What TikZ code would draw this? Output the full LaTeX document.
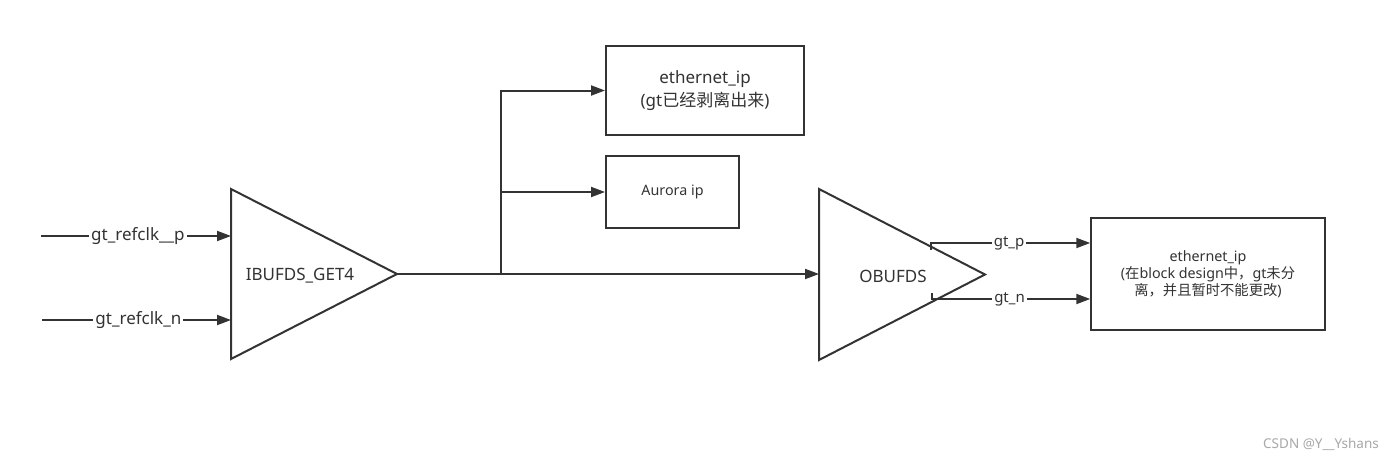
\documentclass[tikz,border=0pt]{standalone}
\usepackage{fontspec}
\setmainfont{Noto Sans}
\newfontfamily\cjk{Noto Sans CJK SC}
\usetikzlibrary{arrows.meta}
\definecolor{ink}{HTML}{333333}
\definecolor{mark}{HTML}{A8A8A8}

\begin{document}
\begin{tikzpicture}[x=1pt,y=-1pt,
  wire/.style={draw=ink,line width=2pt},
  feed/.style={wire,-{Triangle[length=14pt,width=10pt]}},
  block/.style={draw=ink,line width=2pt,fill=white,text=ink,align=center,inner sep=0pt},
  amp/.style={draw=ink,line width=2pt,line join=miter},
  tag/.style={fill=white,text=ink,inner xsep=2pt,inner ysep=1pt},
  big/.style={font=\fontsize{17}{22.5}\selectfont},
  mid/.style={font=\fontsize{15}{17}\selectfont},
  small/.style={font=\fontsize{14.3}{17}\selectfont}]
\useasboundingbox[fill=white] (0,0) rectangle (1400,460);

% output blocks
\node[block,big,minimum width=198pt,minimum height=89pt] (eth1) at (705,90.5)
  {ethernet\_ip\\(gt{\cjk 已经剥离出来})};
\node[block,small,minimum width=133pt,minimum height=72pt] (aur) at (672.5,192)
  {Aurora ip};
\node[block,small,minimum width=233.5pt,minimum height=112.5pt] (eth2) at (1208,274)
  {ethernet\_ip\\({\cjk 在}block design{\cjk 中，}gt{\cjk 未分}\\{\cjk 离，并且暂时不能更改})};

% input buffer IBUFDS_GET4
\coordinate (ibT) at (231,189);
\coordinate (ibB) at (231,359);
\coordinate (ibO) at (397,274);
\draw[amp] (ibT) -- (ibO) -- (ibB) -- cycle;
\node[text=ink,big] (ibl) at (300,276) {IBUFDS\_GET4};
\coordinate (ibP) at (231,236);
\coordinate (ibN) at (231,320);

% output buffer OBUFDS
\coordinate (obT) at (819,189);
\coordinate (obB) at (819,360);
\coordinate (obO) at (985,274.5);
\draw[amp] (obT) -- (obO) -- (obB) -- cycle;
\node[text=ink,big] (obl) at (893,276) {OBUFDS};
\coordinate (obI) at (819,274);

% clock inputs
\coordinate (srcP) at (41,236);
\coordinate (srcN) at (42,320);
\draw[feed] (srcP) -- node[tag,big,pos=0.51]{gt\_refclk\_\_p} (ibP);
\draw[feed] (srcN) -- node[tag,big,pos=0.51]{gt\_refclk\_n} (ibN);

% fan-out of the reference clock
\coordinate (split) at (501,274);
\draw[feed] (ibO) -- (obI);
\draw[feed] (split) |- (eth1.west);
\draw[feed] (split) |- (aur.west);

% differential outputs
\coordinate (opA) at (931,250);
\coordinate (opAt) at (931,243);
\coordinate (opB) at (932,293);
\coordinate (opBt) at (932,299);
\draw[feed] (opA) -- (opAt) -- node[tag,mid,pos=0.49]{gt\_p} (opAt -| eth2.west);
\draw[feed] (opB) -- (opBt) -- node[tag,mid,pos=0.49]{gt\_n} (opBt -| eth2.west);

\node[text=mark,font=\fontsize{13.5}{16}\selectfont] (wm) at (1321,444) {CSDN @Y\_\_Yshans};
\end{tikzpicture}
\end{document}
